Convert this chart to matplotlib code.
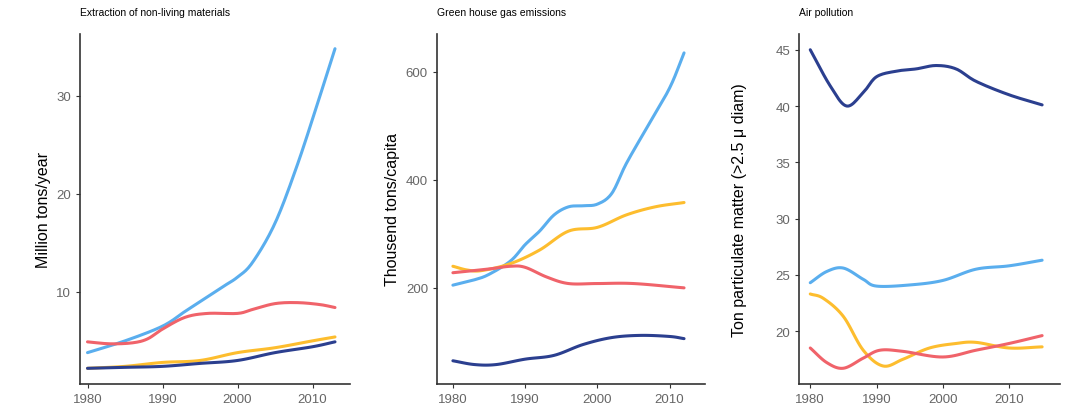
import matplotlib
matplotlib.use('Agg')
import matplotlib.pyplot as plt
import numpy as np

plt.rcParams['font.family'] = ['Liberation Sans', 'DejaVu Sans']

BLUE = "#5aaeee"
RED = "#f0636a"
YELLOW = "#fdbd2e"
NAVY = "#2b3f8f"

# Extraction of non-living materials
p1_blue_x = [1980, 1985, 1990, 1993, 1995, 1998, 2000, 2002, 2005, 2008, 2011, 2013]
p1_blue_y = [3.8, 5.0, 6.5, 8.0, 9.0, 10.5, 11.5, 13.0, 17.0, 23.0, 30.0, 34.8]
p1_red_x = [1980, 1983, 1986, 1988, 1990, 1993, 1996, 2000, 2002, 2005, 2008, 2011, 2013]
p1_red_y = [4.9, 4.7, 4.8, 5.2, 6.2, 7.4, 7.8, 7.8, 8.2, 8.8, 8.9, 8.7, 8.4]
p1_yel_x = [1980, 1985, 1990, 1995, 2000, 2005, 2010, 2013]
p1_yel_y = [2.2, 2.4, 2.8, 3.0, 3.8, 4.3, 5.0, 5.4]
p1_navy_x = [1980, 1985, 1990, 1995, 2000, 2005, 2010, 2013]
p1_navy_y = [2.2, 2.3, 2.4, 2.7, 3.0, 3.8, 4.4, 4.9]

# Green house gas emissions
p2_blue_x = [1980, 1983, 1985, 1988, 1990, 1992, 1994, 1996, 1998, 2000, 2002, 2004, 2007, 2010, 2012]
p2_blue_y = [205, 215, 225, 250, 280, 305, 335, 350, 352, 355, 375, 430, 500, 570, 635]
p2_yel_x = [1980, 1982, 1984, 1988, 1992, 1996, 2000, 2004, 2008, 2012]
p2_yel_y = [240, 233, 232, 245, 270, 305, 312, 335, 350, 358]
p2_red_x = [1980, 1985, 1988, 1990, 1993, 1996, 2000, 2005, 2012]
p2_red_y = [228, 235, 240, 238, 220, 208, 208, 208, 200]
p2_navy_x = [1980, 1983, 1986, 1990, 1994, 1998, 2002, 2006, 2010, 2012]
p2_navy_y = [65, 58, 58, 68, 75, 95, 108, 112, 110, 106]

# Air pollution
p3_navy_x = [1980, 1983, 1985.5, 1988, 1990, 1993, 1996, 1999, 2002, 2005, 2010, 2015]
p3_navy_y = [45.0, 41.8, 40.0, 41.2, 42.6, 43.1, 43.3, 43.6, 43.3, 42.2, 41.0, 40.1]
p3_blue_x = [1980, 1982.5, 1985, 1988, 1990, 1995, 2000, 2005, 2010, 2015]
p3_blue_y = [24.3, 25.3, 25.6, 24.6, 24.0, 24.1, 24.5, 25.5, 25.8, 26.3]
p3_yel_x = [1980, 1982, 1985, 1988, 1991, 1994, 1998, 2002, 2005, 2010, 2015]
p3_yel_y = [23.3, 22.9, 21.3, 18.3, 16.9, 17.5, 18.5, 18.9, 19.0, 18.5, 18.6]
p3_red_x = [1980, 1982.5, 1985, 1988, 1990.5, 1994, 2000, 2005, 2010, 2015]
p3_red_y = [18.5, 17.2, 16.7, 17.6, 18.3, 18.2, 17.7, 18.3, 18.9, 19.6]


def smooth(x, y, n=12):
    # Catmull-Rom curve through the given points
    x = np.asarray(x, float)
    y = np.asarray(y, float)
    px = np.concatenate([[2*x[0]-x[1]], x, [2*x[-1]-x[-2]]])
    py = np.concatenate([[2*y[0]-y[1]], y, [2*y[-1]-y[-2]]])
    t = np.linspace(0, 1, n, endpoint=False)
    xs, ys = [], []
    for i in range(1, len(px)-2):
        for a, out in ((px, xs), (py, ys)):
            p0, p1, p2, p3 = a[i-1], a[i], a[i+1], a[i+2]
            out.extend(0.5*(2*p1 + (-p0+p2)*t + (2*p0-5*p1+4*p2-p3)*t**2
                            + (-p0+3*p1-3*p2+p3)*t**3))
    xs.append(x[-1])
    ys.append(y[-1])
    return xs, ys


fig = plt.figure(figsize=(10.69, 4.14), dpi=100)

panels = [
    dict(rect=[80/1069, 29/414, 270/1069, 350/414], title="Extraction of non-living materials",
         ylabel="Million tons/year", xlim=(1979, 2015), ylim=(0.6, 36.3), yticks=[10, 20, 30],
         series=[(p1_blue_x, p1_blue_y, BLUE), (p1_red_x, p1_red_y, RED),
                 (p1_yel_x, p1_yel_y, YELLOW), (p1_navy_x, p1_navy_y, NAVY)]),
    dict(rect=[437/1069, 29/414, 268/1069, 350/414], title="Green house gas emissions",
         ylabel="Thousend tons/capita", xlim=(1977.8, 2014.9), ylim=(22, 670), yticks=[200, 400, 600],
         series=[(p2_blue_x, p2_blue_y, BLUE), (p2_yel_x, p2_yel_y, YELLOW),
                 (p2_red_x, p2_red_y, RED), (p2_navy_x, p2_navy_y, NAVY)]),
    dict(rect=[799/1069, 29/414, 261/1069, 350/414], title="Air pollution",
         ylabel="Ton particulate matter (>2.5 \u03bc diam)", xlim=(1978.3, 2017.7), ylim=(15.3, 46.4),
         yticks=[20, 25, 30, 35, 40, 45],
         series=[(p3_navy_x, p3_navy_y, NAVY), (p3_blue_x, p3_blue_y, BLUE),
                 (p3_yel_x, p3_yel_y, YELLOW), (p3_red_x, p3_red_y, RED)]),
]

for i, p in enumerate(panels):
    ax = fig.add_axes(p["rect"])
    for x, y, c in p["series"]:
        sx, sy = smooth(x, y)
        ax.plot(sx, sy, color=c, lw=2.2, solid_joinstyle='round', solid_capstyle='round')
    ax.set_xlim(*p["xlim"])
    ax.set_ylim(*p["ylim"])
    ax.set_xticks([1980, 1990, 2000, 2010])
    ax.set_yticks(p["yticks"])
    ax.spines['top'].set_visible(False)
    ax.spines['right'].set_visible(False)
    for s in ('left', 'bottom'):
        ax.spines[s].set_color('#333333')
        ax.spines[s].set_linewidth(1.2)
    ax.tick_params(labelsize=9.5, labelcolor='#666666', color='#333333', length=3)
    ax.set_ylabel(p["ylabel"], fontsize=11.5)
    if i == 2:
        ax.yaxis.set_label_coords(-0.2, 0.5)
    ax.set_title(p["title"], fontsize=7.5, loc='left', pad=14)

fig.savefig("out.png", dpi=100)
